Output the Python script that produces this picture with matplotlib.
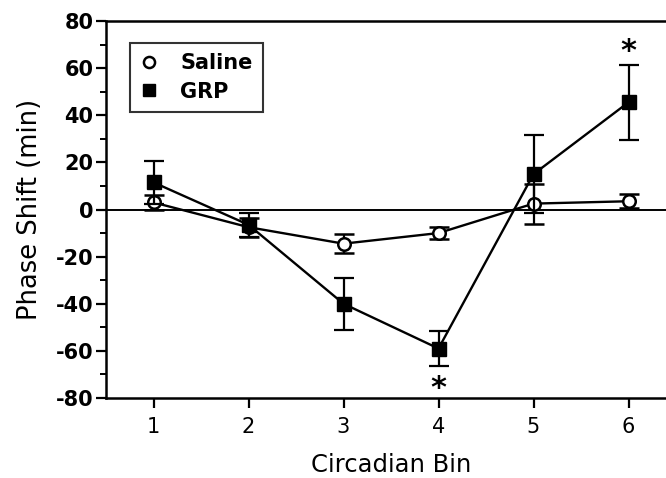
import matplotlib
matplotlib.use("Agg")
import matplotlib.pyplot as plt
from matplotlib.lines import Line2D
from matplotlib.ticker import MultipleLocator

plt.rcParams["axes.unicode_minus"] = False

# Data
bins = [1, 2, 3, 4, 5, 6]
saline_mean = [3, -7.5, -14.5, -10, 2.5, 3.5]
saline_err = [3, 4, 4, 2.5, 8.5, 3]
grp_mean = [11.5, -6.5, -40, -59, 15, 45.5]
grp_err = [9, 5, 11, 7.5, 16.5, 16]
star_bins = [4, 6]
star_y = [-76, 67]

W, H = 666, 478
fig = plt.figure(figsize=(W / 100, H / 100), dpi=100)
# the right edge of the panel is cut off in the original
ax = fig.add_axes([106 / W, 1 - 398 / H, 570 / W, 377 / H])

ax.axhline(0, color="black", lw=1.4, zorder=1)

ax.errorbar(bins, saline_mean, yerr=saline_err, color="black", lw=1.7,
            elinewidth=1.6, capsize=7, capthick=1.6, marker="o", ms=9,
            mfc="white", mec="black", mew=1.8, zorder=3)
ax.errorbar(bins, grp_mean, yerr=grp_err, color="black", lw=1.7,
            elinewidth=1.6, capsize=7, capthick=1.6, marker="s", ms=10,
            mfc="black", mec="black", zorder=4)

for xb, yb in zip(star_bins, star_y):
    ax.text(xb, yb, "*", ha="center", va="center", fontsize=22,
            fontweight="bold")

ax.set_xlim(0.5, 6.5)
ax.set_ylim(-80, 80)
ax.set_xticks(bins)
ax.yaxis.set_major_locator(MultipleLocator(20))
ax.yaxis.set_minor_locator(MultipleLocator(10))

for side in ["left", "bottom", "top", "right"]:
    ax.spines[side].set_linewidth(1.8)

ax.tick_params(axis="both", which="major", direction="out", length=7,
               width=1.6)
ax.tick_params(axis="y", which="minor", direction="out", length=4, width=1.4)
ax.tick_params(axis="x", labelsize=15, pad=7)
ax.tick_params(axis="y", labelsize=15, pad=2)
for lab in ax.get_yticklabels():
    lab.set_fontweight("bold")

ax.set_xlabel("Circadian Bin", fontsize=17.5, labelpad=11)
ax.set_ylabel("Phase Shift (min)", fontsize=18.5, labelpad=9)

handles = [
    Line2D([], [], ls="none", marker="o", ms=8, mfc="white", mec="black",
           mew=1.8),
    Line2D([], [], ls="none", marker="s", ms=8, mfc="black", mec="black"),
]
leg = ax.legend(handles, ["Saline", "GRP"], loc="upper left",
                bbox_to_anchor=(130 / W, 1 - 43 / H),
                bbox_transform=fig.transFigure, borderaxespad=0,
                frameon=True, fancybox=False, handlelength=0.8,
                handletextpad=1.1, borderpad=0.5, labelspacing=0.4,
                prop={"size": 15, "weight": "bold"})
leg.get_frame().set_edgecolor("black")
leg.get_frame().set_linewidth(1.5)

fig.savefig("out.png", dpi=100)
